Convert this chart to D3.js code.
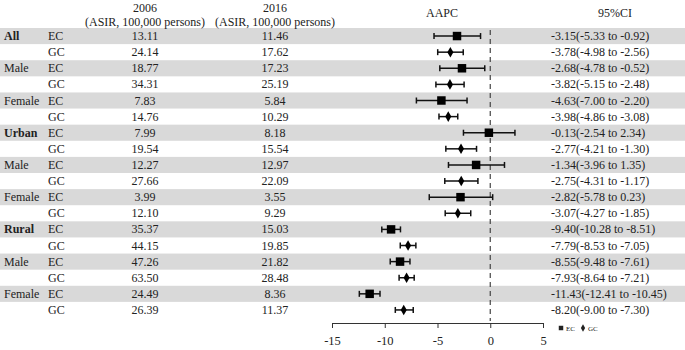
<!DOCTYPE html>
<html>
<head>
<meta charset="utf-8">
<script src="https://cdn.jsdelivr.net/npm/d3@7"></script>
<style>
  body { margin: 0; background: #fff; }
  svg { display: block; font-family: "Liberation Serif", "Times New Roman", serif; }
</style>
</head>
<body>
<script>
// forest plot: ASIR table on the left, AAPC with 95%CI on the right
const groupLabels = ["All", "Male", "Female", "Urban", "Male", "Female", "Rural", "Male", "Female"];
const types = ["EC", "GC"];
const asir2006 = [13.11, 24.14, 18.77, 34.31, 7.83, 14.76, 7.99, 19.54, 12.27, 27.66, 3.99, 12.10, 35.37, 44.15, 47.26, 63.50, 24.49, 26.39];
const asir2016 = [11.46, 17.62, 17.23, 25.19, 5.84, 10.29, 8.18, 15.54, 12.97, 22.09, 3.55, 9.29, 15.03, 19.85, 21.82, 28.48, 8.36, 11.37];
const aapc = [-3.15, -3.78, -2.68, -3.82, -4.63, -3.98, -0.13, -2.77, -1.34, -2.75, -2.82, -3.07, -9.40, -7.79, -8.55, -7.93, -11.43, -8.20];
const ciLow = [-5.33, -4.98, -4.78, -5.15, -7.00, -4.86, -2.54, -4.21, -3.96, -4.31, -5.78, -4.27, -10.28, -8.53, -9.48, -8.64, -12.41, -9.00];
const ciHigh = [-0.92, -2.56, -0.52, -2.48, -2.20, -3.08, 2.34, -1.30, 1.35, -1.17, 0.23, -1.85, -8.51, -7.05, -7.61, -7.21, -10.45, -7.30];
const xTicks = [-15, -10, -5, 0, 5];

const width = 685, height = 350;
const rows = aapc.map((v, i) => ({
  i: i,
  group: i % 2 === 0 ? groupLabels[i / 2] : "",
  bold: i % 2 === 0 && (i / 2 === 0 || i / 2 === 3 || i / 2 === 6),
  type: types[i % 2],
  a: asir2006[i], b: asir2016[i],
  v: v, lo: ciLow[i], hi: ciHigh[i]
}));

const svg = d3.select("body").append("svg")
  .attr("width", width)
  .attr("height", height);

const y = d3.scaleBand()
  .domain(rows.map(d => d.i))
  .range([28, 318]);

const x = d3.scaleLinear()
  .domain([-15, 5])
  .range([332, 543]);

// grey bands on EC rows
svg.append("g")
  .selectAll("rect")
  .data(rows.filter(d => d.type === "EC"))
  .join("rect")
  .attr("x", 0)
  .attr("y", d => y(d.i))
  .attr("width", width)
  .attr("height", y.bandwidth())
  .attr("fill", "#d9d9d9");

// header
const head = svg.append("g").attr("font-size", 12).attr("fill", "#222");
head.append("text").attr("x", 145).attr("y", 12).attr("text-anchor", "middle").text("2006");
head.append("text").attr("x", 145).attr("y", 26).attr("text-anchor", "middle").text("(ASIR, 100,000 persons)");
head.append("text").attr("x", 275).attr("y", 12).attr("text-anchor", "middle").text("2016");
head.append("text").attr("x", 275).attr("y", 26).attr("text-anchor", "middle").text("(ASIR, 100,000 persons)");
head.append("text").attr("x", 442).attr("y", 17).attr("text-anchor", "middle").text("AAPC");
head.append("text").attr("x", 615).attr("y", 17).attr("text-anchor", "middle").text("95%CI");

// table columns
const tbl = svg.append("g").attr("font-size", 12).attr("fill", "#222");
const rowText = tbl.selectAll("g")
  .data(rows)
  .join("g")
  .attr("transform", d => `translate(0,${y(d.i) + y.bandwidth() / 2 + 4})`);

rowText.append("text")
  .attr("x", 4)
  .attr("font-weight", d => d.bold ? "bold" : "normal")
  .text(d => d.group);
rowText.append("text").attr("x", 48).text(d => d.type);
rowText.append("text").attr("x", 145).attr("text-anchor", "middle").text(d => d.a.toFixed(2));
rowText.append("text").attr("x", 275).attr("text-anchor", "middle").text(d => d.b.toFixed(2));
rowText.append("text").attr("x", 551)
  .text(d => `${d.v.toFixed(2)}(${d.lo.toFixed(2)} to ${d.hi.toFixed(2)})`);

// reference line at 0
svg.append("line")
  .attr("x1", x(0)).attr("x2", x(0))
  .attr("y1", 30).attr("y2", 321)
  .attr("stroke", "#444")
  .attr("stroke-width", 1.2)
  .attr("stroke-dasharray", "5,4");

// whiskers
const cap = 3;
const marks = svg.append("g").attr("stroke", "#111").attr("stroke-width", 1.5);
const cy = d => y(d.i) + y.bandwidth() / 2;
marks.selectAll(".ci")
  .data(rows)
  .join("line")
  .attr("x1", d => x(d.lo)).attr("x2", d => x(d.hi))
  .attr("y1", cy).attr("y2", cy);
marks.selectAll(".capl")
  .data(rows)
  .join("line")
  .attr("x1", d => x(d.lo)).attr("x2", d => x(d.lo))
  .attr("y1", d => cy(d) - cap).attr("y2", d => cy(d) + cap);
marks.selectAll(".caph")
  .data(rows)
  .join("line")
  .attr("x1", d => x(d.hi)).attr("x2", d => x(d.hi))
  .attr("y1", d => cy(d) - cap).attr("y2", d => cy(d) + cap);

// point markers
svg.append("g")
  .selectAll("path")
  .data(rows)
  .join("path")
  .attr("transform", d => `translate(${x(d.v)},${cy(d)})`)
  .attr("d", d => d.type === "EC"
    ? d3.symbol(d3.symbolSquare, 72)()
    : d3.symbol(d3.symbolDiamond, 32)())
  .attr("fill", "#000");

// x axis
const axis = svg.append("g")
  .attr("transform", "translate(0,323)")
  .call(d3.axisBottom(x).tickValues(xTicks).tickSize(5).tickPadding(8).tickFormat(d3.format("d")));
axis.select(".domain").attr("stroke", "#333");
axis.selectAll(".tick line").attr("stroke", "#333");
axis.selectAll(".tick text")
  .attr("font-family", "Liberation Serif, serif")
  .attr("font-size", 12.5)
  .attr("fill", "#222")
  .text(d => d < 0 ? "-" + Math.abs(d) : d);

// legend
const leg = svg.append("g").attr("transform", "translate(0,328)").attr("font-size", 7).attr("fill", "#222");
leg.append("path").attr("transform", "translate(561,0)").attr("d", d3.symbol(d3.symbolSquare, 20)());
leg.append("text").attr("x", 566).attr("y", 2.5).text("EC");
leg.append("path").attr("transform", "translate(583,0)").attr("d", d3.symbol(d3.symbolDiamond, 16)());
leg.append("text").attr("x", 588).attr("y", 2.5).text("GC");
</script>
</body>
</html>
